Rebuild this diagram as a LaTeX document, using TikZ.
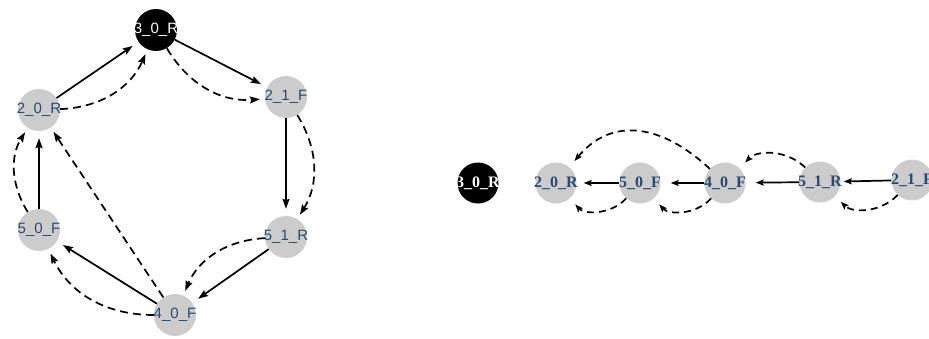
\documentclass[tikz,border=0pt]{standalone}
\usepackage{fontspec}
\setmainfont{Liberation Sans}
\newfontfamily\rfont{Liberation Serif}
\usetikzlibrary{arrows.meta}
\definecolor{lbl}{RGB}{40,75,115}
\definecolor{vgrey}{RGB}{204,204,204}
\begin{document}
\begin{tikzpicture}[x=1pt,y=1pt,
 vtx/.style={circle, fill=vgrey, minimum size=42pt, inner sep=0pt, text=lbl, font=\fontsize{15}{15}\selectfont},
 vtxs/.style={vtx, fill=black, text=white},
 rvtx/.style={circle, fill=vgrey, minimum size=41pt, inner sep=0pt, text=lbl, font=\rfont\bfseries\fontsize{16}{16}\selectfont},
 rvtxs/.style={rvtx, fill=black, text=white},
 sol/.style={line width=1.7pt, -{Stealth[length=10pt,width=7pt,inset=1.5pt]}, shorten >=7pt},
 dsh/.style={sol, dash pattern=on 8pt off 5pt, shorten >=5pt},
 rsol/.style={line width=1.7pt, -{Stealth[length=8pt,width=6pt,inset=1.5pt]}},
 rdsh/.style={rsol, dash pattern=on 7pt off 5pt, shorten >=8pt},
]
\useasboundingbox (0,0) rectangle (929,338);
% left graph
\node[vtxs] (s30L) at (156,308) {\makebox[0pt]{3\_0\_R}};
\node[vtx] (f21L) at (286,241) {\makebox[0pt]{2\_1\_F}};
\node[vtx] (r20L) at (39,228) {\makebox[0pt]{2\_0\_R}};
\node[vtx] (r51L) at (286,101) {\makebox[0pt]{5\_1\_R}};
\node[vtx] (f50L) at (39,108) {\makebox[0pt]{5\_0\_F}};
\node[vtx] (f40L) at (175,23) {\makebox[0pt]{4\_0\_F}};
\draw[sol] (r20L) -- (s30L);
\draw[dsh] (r20L) to[bend right=32] (s30L);
\draw[sol] (s30L) -- (f21L);
\draw[dsh] (s30L) to[bend right=32] (f21L);
\draw[sol] (f21L) -- (r51L);
\draw[dsh] (f21L) to[bend left=32] (r51L);
\draw[sol] (r51L) -- (f40L);
\draw[dsh] (r51L) to[bend right=32] (f40L);
\draw[sol] (f40L) -- (f50L);
\draw[dsh] (f40L) to[bend left=32] (f50L);
\draw[sol] (f50L) -- (r20L);
\draw[dsh] (f50L) to[bend left=32] (r20L);
\draw[dsh] (f40L) -- (r20L);
% right graph
\node[rvtxs] (s30R) at (478,155) {\makebox[0pt]{3\_0\_R}};
\node[rvtx] (r20R) at (556,155) {\makebox[0pt]{2\_0\_R}};
\node[rvtx] (f50R) at (640,155) {\makebox[0pt]{5\_0\_F}};
\node[rvtx] (f40R) at (725,155) {\makebox[0pt]{4\_0\_F}};
\node[rvtx] (r51R) at (820,156) {\makebox[0pt]{5\_1\_R}};
\node[rvtx] (f21R) at (912,158) {\makebox[0pt]{2\_1\_F}};
\draw[rsol, shorten >=7pt] (f50R) -- (r20R);
\draw[rdsh] (f50R) to[bend left=48] (r20R);
\draw[rsol, shorten >=10pt] (f40R) -- (f50R);
\draw[rdsh] (f40R) to[bend left=48] (f50R);
\draw[rdsh] (f40R) to[out=137, in=50, looseness=1.2] (r20R);
\draw[rsol, shorten >=10pt] (r51R) -- (f40R);
\draw[rdsh] (r51R) to[bend right=45] (f40R);
\draw[rsol, shorten >=3pt] (f21R) -- (r51R);
\draw[rdsh] (f21R) to[bend left=45] (r51R);
\end{tikzpicture}
\end{document}
